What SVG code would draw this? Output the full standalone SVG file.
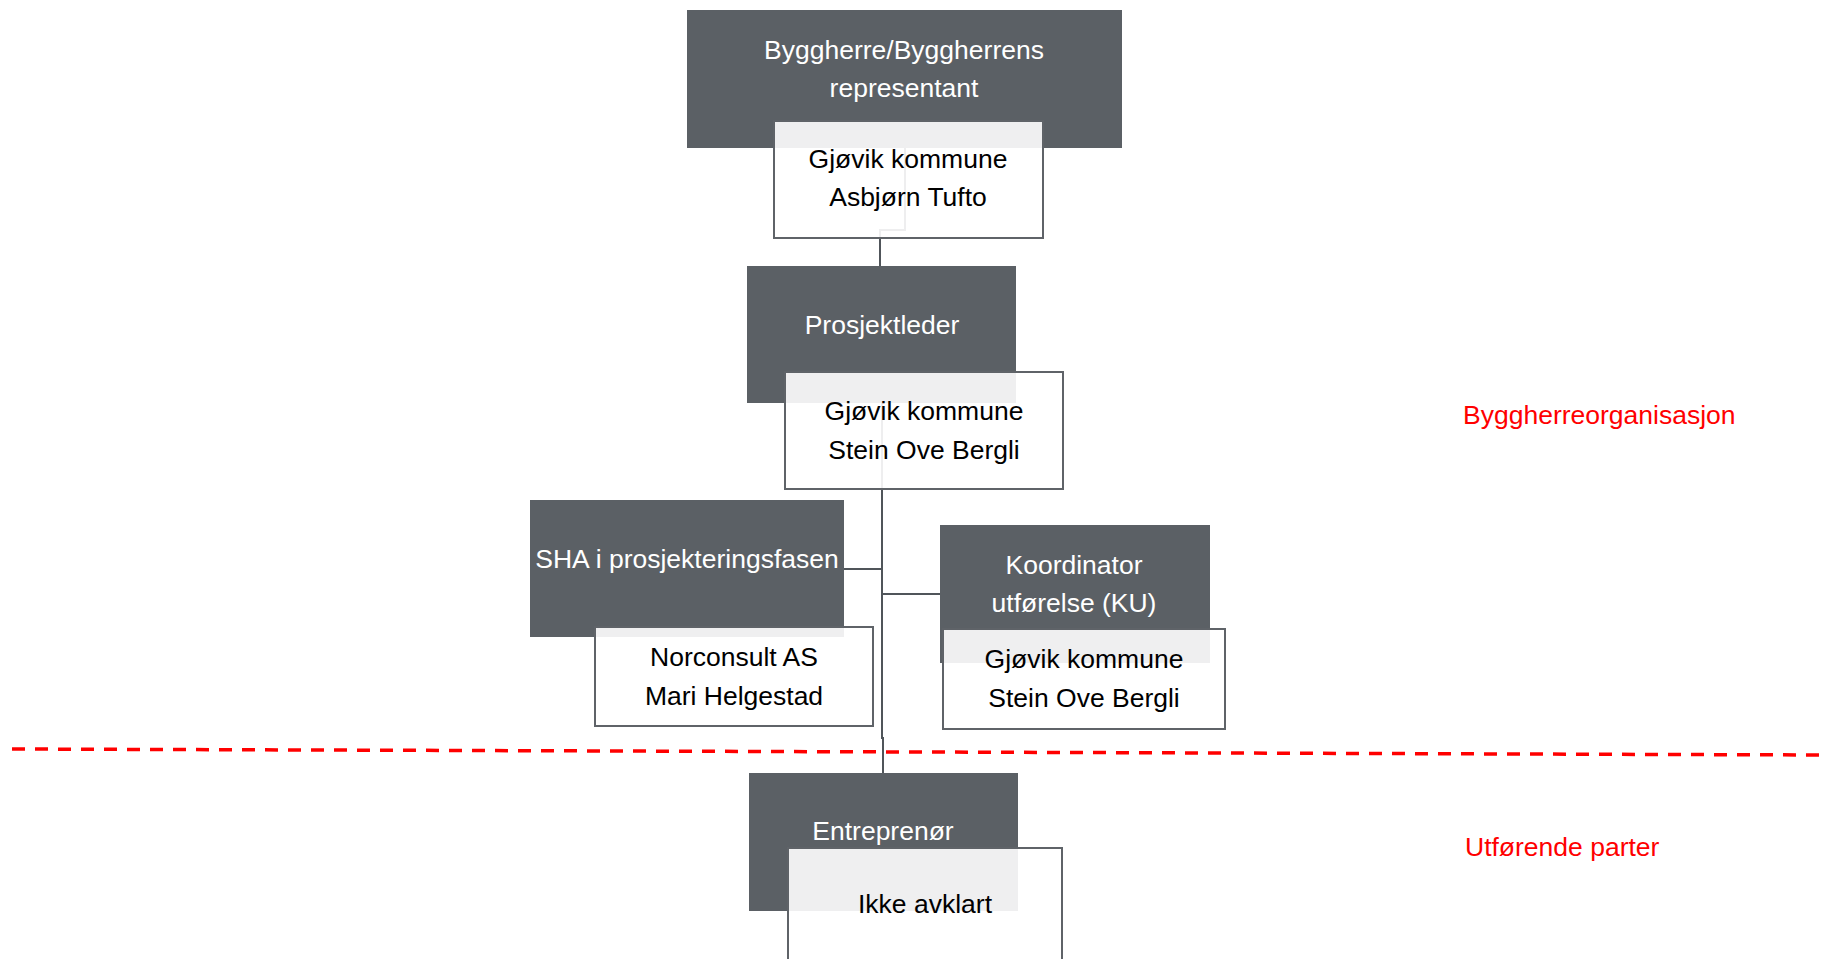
<svg xmlns="http://www.w3.org/2000/svg" width="1832" height="959" viewBox="0 0 1832 959">
<style>
  .dark { fill: #5b6065; }
  .card { fill: #ffffff; fill-opacity: 0.9; stroke: #5f6368; stroke-width: 2; }
  .wt { font-family: "Liberation Sans", Arial, sans-serif; font-size: 26.5px; fill: #ffffff; text-anchor: middle; }
  .bt { font-family: "Liberation Sans", Arial, sans-serif; font-size: 26.5px; fill: #000000; text-anchor: middle; }
  .rt { font-family: "Liberation Sans", Arial, sans-serif; font-size: 26.5px; fill: #ff0000; }
  .conn { fill: none; stroke: #50555a; stroke-width: 2; }
</style>
<rect width="1832" height="959" fill="#ffffff"/>
<g id="connectors">
  <path class="conn" d="M905,148 V230 H880 V266"/>
  <path class="conn" d="M882,403 V738 H883 V773"/>
  <path class="conn" d="M844,569 H882"/>
  <path class="conn" d="M883,594 H941"/>
</g>
<g id="divider">
  <line x1="12" y1="749" x2="1823" y2="755" stroke="#ff0000" stroke-width="3.5" stroke-dasharray="13,10"/>
</g>
<g id="byggherre">
  <rect class="dark" x="687" y="10" width="435" height="138"/>
  <text class="wt" x="904" y="59">Byggherre/Byggherrens</text>
  <text class="wt" x="904" y="97">representant</text>
  <rect class="card" x="774" y="121" width="269" height="117"/>
  <text class="bt" x="908" y="168">Gjøvik kommune</text>
  <text class="bt" x="908" y="206">Asbjørn Tufto</text>
</g>
<g id="prosjektleder">
  <rect class="dark" x="747" y="266" width="269" height="137"/>
  <text class="wt" x="882" y="334">Prosjektleder</text>
  <rect class="card" x="785" y="372" width="278" height="117"/>
  <text class="bt" x="924" y="420">Gjøvik kommune</text>
  <text class="bt" x="924" y="459">Stein Ove Bergli</text>
</g>
<g id="sha">
  <rect class="dark" x="530" y="500" width="314" height="137"/>
  <text class="wt" x="687" y="568">SHA i prosjekteringsfasen</text>
  <rect class="card" x="595" y="627" width="278" height="99"/>
  <text class="bt" x="734" y="666">Norconsult AS</text>
  <text class="bt" x="734" y="705">Mari Helgestad</text>
</g>
<g id="koordinator">
  <rect class="dark" x="940" y="525" width="270" height="138"/>
  <text class="wt" x="1074" y="574">Koordinator</text>
  <text class="wt" x="1074" y="612">utførelse (KU)</text>
  <rect class="card" x="943" y="629" width="282" height="100"/>
  <text class="bt" x="1084" y="668">Gjøvik kommune</text>
  <text class="bt" x="1084" y="707">Stein Ove Bergli</text>
</g>
<g id="entreprenor">
  <rect class="dark" x="749" y="773" width="269" height="138"/>
  <text class="wt" x="883" y="840">Entreprenør</text>
  <rect class="card" x="788" y="848" width="274" height="120"/>
  <text class="bt" x="925" y="913">Ikke avklart</text>
</g>
<g id="labels">
  <text class="rt" x="1463" y="424">Byggherreorganisasjon</text>
  <text class="rt" x="1465" y="856">Utførende parter</text>
</g>
</svg>
